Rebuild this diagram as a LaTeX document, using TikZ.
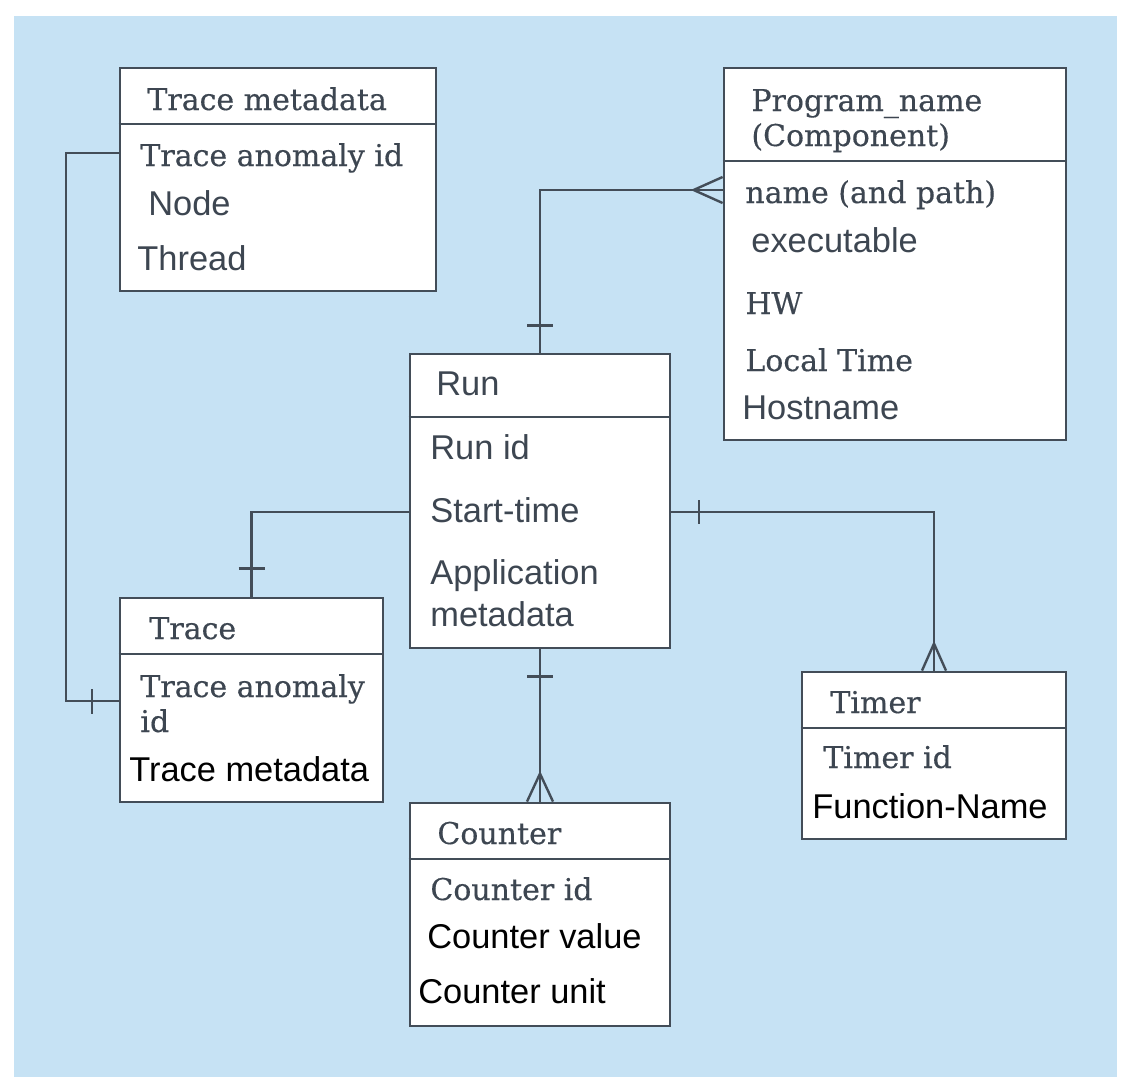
\documentclass[tikz,border=0pt]{standalone}
\usepackage{fontspec}
\usepackage{tikz}
\usetikzlibrary{fit,calc}
\newfontfamily\erserif[FakeBold=0.35]{DejaVu Serif}
\newfontfamily\ersans{Liberation Sans}
\definecolor{bgblue}{HTML}{C6E2F4}
\definecolor{linegray}{HTML}{434D58}
\definecolor{txtgray}{HTML}{3D4651}
\tikzstyle{entity}=[
	draw=linegray,
	line width=1.4pt,
	fill=white,
	inner sep=0pt
]
\tikzstyle{edge}=[
	-,
	draw=linegray,
	line width=1.2pt
]
\tikzstyle{hd}=[
	anchor=base west,
	inner sep=0pt,
	align=left,
	text=txtgray,
	font=\erserif\fontsize{15}{17.5}\selectfont
]
\tikzstyle{fattr}=[
	anchor=base west,
	inner sep=0pt,
	align=left,
	text=txtgray,
	font=\ersans\fontsize{17.2}{21}\selectfont
]
\tikzstyle{kattr}=[
	fattr,
	text=black
]
\begin{document}
\begin{tikzpicture}[x=0.5pt,y=-0.5pt]
\useasboundingbox (0,0) rectangle (1130,1092);
\fill[white] (0,0) rectangle (1130,1092);
\fill[bgblue] (14,16) rectangle (1117,1077);

% entities
\node[entity, fit={(120,68) (436,291)}] (tmeta) {};
\node[entity, fit={(724,68) (1066,440)}] (prog) {};
\node[entity, fit={(410,354) (670,648)}] (run) {};
\node[entity, fit={(120,598) (383,802)}] (trace) {};
\node[entity, fit={(802,672) (1066,839)}] (timer) {};
\node[entity, fit={(410,803) (670,1026)}] (counter) {};

\draw[edge] (tmeta.west |- 0,124) -- (tmeta.east |- 0,124);
\draw[edge] (prog.west |- 0,161) -- (prog.east |- 0,161);
\draw[edge] (run.west |- 0,417) -- (run.east |- 0,417);
\draw[edge] (trace.west |- 0,654) -- (trace.east |- 0,654);
\draw[edge] (timer.west |- 0,728) -- (timer.east |- 0,728);
\draw[edge] (counter.west |- 0,859) -- (counter.east |- 0,859);

% Trace metadata
\node[hd] (tmeta-h) at (147,110) {Trace metadata};
\node[hd] (tmeta-a) at (140,166) {Trace anomaly id};
\node[fattr] (tmeta-b) at (148,215) {Node};
\node[fattr] (tmeta-c) at (137,270) {Thread};

% Program_name (base = last line)
\node[hd] (prog-h) at (751,146) {Program\_name\\(Component)};
\node[hd] (prog-a) at (745,203) {name (and path)};
\node[fattr] (prog-b) at (751,252) {executable};
\node[hd] (prog-c) at (745,314) {HW};
\node[hd] (prog-d) at (745,371) {Local Time};
\node[fattr] (prog-e) at (742,419) {Hostname};

% Run
\node[fattr] (run-h) at (436,395) {Run};
\node[fattr] (run-a) at (430,459) {Run id};
\node[fattr] (run-b) at (430,522) {Start-time};
\node[fattr] (run-c) at (430,626) {Application\\metadata};

% Trace
\node[hd] (trace-h) at (149,639) {Trace};
\node[hd] (trace-a) at (140,732) {Trace anomaly\\id};
\node[kattr] (trace-b) at (129,781) {Trace metadata};

% Timer
\node[hd] (timer-h) at (830,713) {Timer};
\node[hd] (timer-a) at (823,768) {Timer id};
\node[kattr] (timer-b) at (812,818) {Function-Name};

% Counter
\node[hd] (counter-h) at (437,844) {Counter};
\node[hd] (counter-a) at (430,900) {Counter id};
\node[kattr] (counter-b) at (427,948) {Counter value};
\node[kattr] (counter-c) at (418,1003) {Counter unit};

% relations
\draw[edge] (tmeta.west |- 0,153) -- (66,153) |- (trace.west |- 0,701);
\draw[edge] (92,689) -- (92,714);

\draw[edge] (run.north) |- (prog.west |- 0,190);
\draw[edge] ($(run.north)+(-13,-27)$) -- ++(26,0);
\draw[edge] ($(prog.west |- 0,190)+(-29,0)$) -- (prog.west |- 0,177)
            ($(prog.west |- 0,190)+(-29,0)$) -- (prog.west |- 0,203);

\draw[edge] (run.west |- 0,512) -| (trace.north);
\draw[edge] ($(trace.north)+(-13,-28)$) -- ++(26,0);

\draw[edge] (run.east |- 0,512) -| (timer.north);
\draw[edge] (699,500) -- (699,524);
\draw[edge] ($(timer.north)+(0,-27)$) -- ($(timer.north)+(-12,0)$)
            ($(timer.north)+(0,-27)$) -- ($(timer.north)+(12,0)$);

\draw[edge] (run.south) -- (counter.north);
\draw[edge] ($(run.south)+(-13,27)$) -- ++(26,0);
\draw[edge] ($(counter.north)+(0,-28)$) -- ($(counter.north)+(-13,0)$)
            ($(counter.north)+(0,-28)$) -- ($(counter.north)+(13,0)$);
\end{tikzpicture}
\end{document}
